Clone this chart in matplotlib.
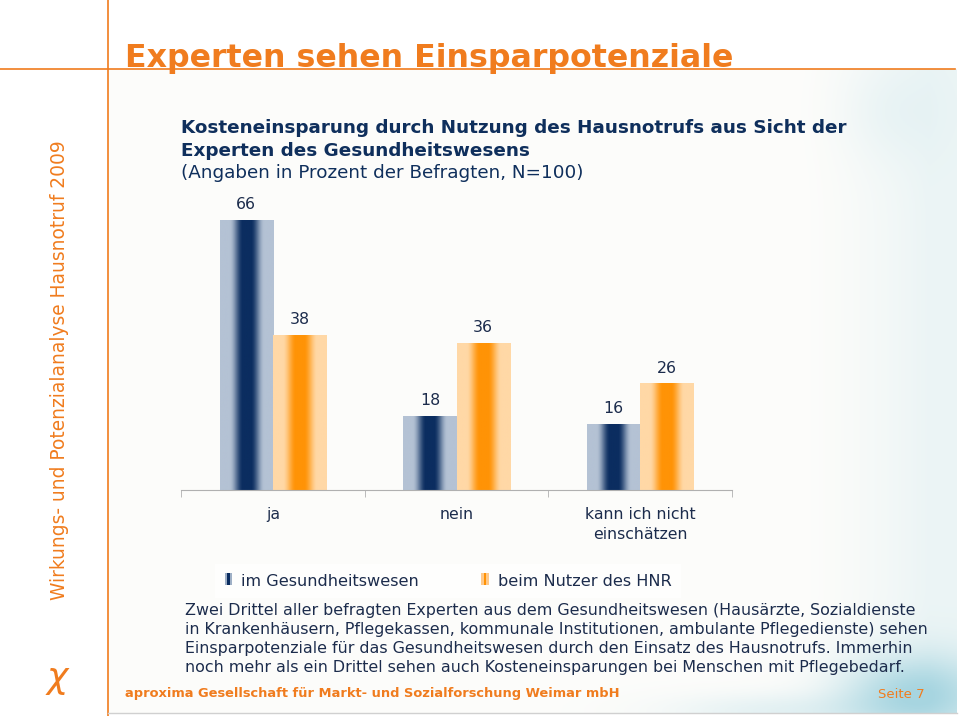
import numpy as np
import matplotlib
matplotlib.use("Agg")
import matplotlib.pyplot as plt
from matplotlib.legend_handler import HandlerBase
from matplotlib.patches import Rectangle

# data
categories = ["ja", "nein", "kann ich nicht\neinschätzen"]
series_names = ["im Gesundheitswesen", "beim Nutzer des HNR"]
health_sector = [66, 18, 16]
hnr_users = [38, 36, 26]

title = "Experten sehen Einsparpotenziale"
subtitle_bold = ["Kosteneinsparung durch Nutzung des Hausnotrufs aus Sicht der",
                 "Experten des Gesundheitswesens"]
subtitle_note = "(Angaben in Prozent der Befragten, N=100)"
side_text = "Wirkungs- und Potenzialanalyse Hausnotruf 2009"
body_lines = [
    "Zwei Drittel aller befragten Experten aus dem Gesundheitswesen (Hausärzte, Sozialdienste",
    "in Krankenhäusern, Pflegekassen, kommunale Institutionen, ambulante Pflegedienste) sehen",
    "Einsparpotenziale für das Gesundheitswesen durch den Einsatz des Hausnotrufs. Immerhin",
    "noch mehr als ein Drittel sehen auch Kosteneinsparungen bei Menschen mit Pflegebedarf.",
]
footer = "aproxima Gesellschaft für Markt- und Sozialforschung Weimar mbH"
page = "Seite 7"

ORANGE = "#f07c1e"
NAVY = "#0f2f5c"
TEXT = "#1c2c4c"

W, H = 960, 716
fig = plt.figure(figsize=(W / 100, H / 100), dpi=100)
fig.patch.set_facecolor("white")


def fx(px):
    return px / W


def fy(py):
    return 1 - py / H


# content panel background: near white, light blue haze on the right, teal at bottom right
x0p, x1p, y0p, y1p = 108, 957, 69, 713
bg = fig.add_axes([fx(x0p), fy(y1p), fx(x1p) - fx(x0p), (y1p - y0p) / H], zorder=-10)
bg.axis("off")
px, py = np.meshgrid(np.linspace(x0p, x1p, 425), np.linspace(y0p, y1p, 322))
base = np.array([0.990, 0.990, 0.982])
blue = np.array([0.62, 0.82, 0.87])
w = np.clip((px - 800) / 130, 0, 1) ** 1.5 * 0.18
w += np.exp(-(((px - 890) / 50) ** 2 + ((py - 110) / 50) ** 2)) * 0.1
w += np.exp(-(((px - 915) / 75) ** 2 + ((py - 695) / 40) ** 2)) * 0.75
w += np.exp(-(((px - 780) / 110) ** 2 + ((py - 712) / 18) ** 2)) * 0.25
w = np.clip(w, 0, 0.9)
img = base[None, None, :] * (1 - w[..., None]) + blue[None, None, :] * w[..., None]
bg.imshow(img, extent=[0, 1, 0, 1], aspect="auto", origin="upper")
bg.set_xlim(0, 1)
bg.set_ylim(0, 1)

# frame lines
fig.add_artist(plt.Line2D([fx(108), fx(108)], [0, 1], color=ORANGE, lw=1.2))
fig.add_artist(plt.Line2D([0, fx(955)], [fy(69), fy(69)], color=ORANGE, lw=1.2))
fig.add_artist(plt.Line2D([fx(108), fx(957)], [fy(713), fy(713)], color="#d0d0d0", lw=1))

fig.text(fx(125), fy(58), title, color=ORANGE, fontsize=22.8, fontweight="bold", va="center")
fig.text(fx(60), fy(370), side_text, color=ORANGE, fontsize=13.4, rotation=90,
         ha="center", va="center")
fig.text(fx(58), fy(680), r"$\chi$", color=ORANGE, fontsize=26, ha="center", va="center")

fig.text(fx(181), fy(128), subtitle_bold[0], color=NAVY, fontsize=13.2, fontweight="bold", va="center")
fig.text(fx(181), fy(151), subtitle_bold[1], color=NAVY, fontsize=13.2, fontweight="bold", va="center")
fig.text(fx(181), fy(173), subtitle_note, color=NAVY, fontsize=13.2, va="center")

# chart
ax = fig.add_axes([fx(181), fy(490), fx(732) - fx(181), (490 - 204.5) / H])
ax.set_facecolor("none")
x = np.arange(len(categories))
bw = 0.289


def gradient_fill(bars, light, dark):
    t = np.abs(np.linspace(-1, 1, 96))
    s = np.clip((t - 0.15) / 0.5, 0, 1)
    s = s * s * (3 - 2 * s)
    cols = np.array([matplotlib.colors.to_rgb(dark)]) * (1 - s[:, None]) + \
        np.array([matplotlib.colors.to_rgb(light)]) * s[:, None]
    for b in bars:
        bx, bwid, bh = b.get_x(), b.get_width(), b.get_height()
        ax.imshow(cols[None, :, :], extent=[bx, bx + bwid, 0, bh], aspect="auto", zorder=2)


bars1 = ax.bar(x - bw / 2, health_sector, bw, color="none")
bars2 = ax.bar(x + bw / 2, hnr_users, bw, color="none")
gradient_fill(bars1, "#b4c2d4", "#0b2d60")
gradient_fill(bars2, "#ffd8a6", "#ff9306")

for bars in (bars1, bars2):
    for b in bars:
        ax.annotate(f"{b.get_height():.0f}", (b.get_x() + b.get_width() / 2, b.get_height()),
                    xytext=(0, 6), textcoords="offset points", ha="center", va="bottom",
                    fontsize=11.3, color=TEXT)

ax.set_xlim(-0.5, len(categories) - 0.5)
ax.set_ylim(0, 70)
for s in ("top", "right", "left"):
    ax.spines[s].set_visible(False)
ax.spines["bottom"].set_color("#b0b0b0")
ax.set_yticks([])
ax.set_xticks(x)
ax.set_xticklabels(categories, fontsize=11.3, color=TEXT, linespacing=1.45)
ax.tick_params(axis="x", which="major", length=0, pad=12)
ax.set_xticks(np.arange(len(categories) + 1) - 0.5, minor=True)
ax.tick_params(axis="x", which="minor", length=5, color="#b0b0b0", direction="out")


class GradHandler(HandlerBase):
    def __init__(self, light, dark):
        super().__init__()
        self.light, self.dark = light, dark

    def create_artists(self, legend, orig, xd, yd, width, height, fontsize, trans):
        cols = [self.light, self.dark, self.light]
        return [Rectangle((xd + i * width / 3, yd), width / 3, height, facecolor=c,
                          edgecolor="none", transform=trans) for i, c in enumerate(cols)]


h1 = Rectangle((0, 0), 1, 1)
h2 = Rectangle((0, 0), 1, 1)
leg = fig.legend([h1, h2], series_names, loc="center", bbox_to_anchor=(fx(448), fy(581)),
                 ncol=2, fontsize=11.6, frameon=True, handlelength=0.45, handleheight=0.75,
                 handletextpad=0.55, columnspacing=3.9, borderpad=0.6,
                 handler_map={h1: GradHandler("#9fb0c6", "#0b2d60"),
                              h2: GradHandler("#ffc98a", "#ff9306")})
leg.get_frame().set_facecolor("white")
leg.get_frame().set_edgecolor("none")
leg.get_frame().set_boxstyle("square", pad=0)
for t in leg.get_texts():
    t.set_color(TEXT)

for i, line in enumerate(body_lines):
    fig.text(fx(185), fy(610 + i * 19.3), line, color=TEXT, fontsize=11.4, va="center")

fig.text(fx(125), fy(694), footer, color=ORANGE, fontsize=9.4, fontweight="bold", va="center")
fig.text(fx(925), fy(694), page, color=ORANGE, fontsize=9.5, ha="right", va="center")

fig.savefig("out.png", dpi=100)
